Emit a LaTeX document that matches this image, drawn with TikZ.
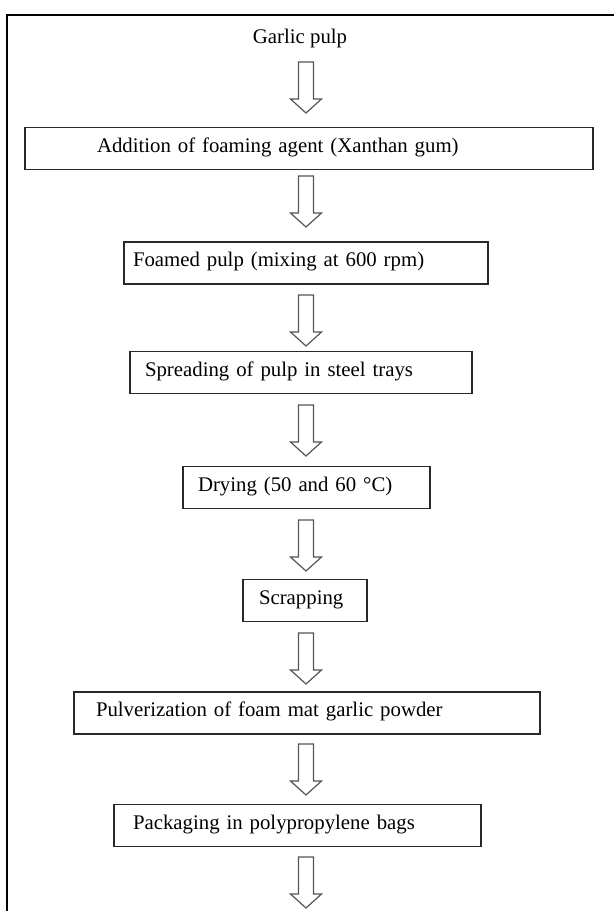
\documentclass[tikz,border=0pt]{standalone}
\usepackage{fontspec}
\setmainfont{Liberation Serif}
\usepackage{tikz}
\usetikzlibrary{positioning}
\definecolor{boxline}{RGB}{40, 40, 40}
\definecolor{arrowgray}{RGB}{85, 85, 85}

\begin{document}
\begin{tikzpicture}[
    x=1pt, y=-1pt,
    font=\fontsize{20.8pt}{25pt}\selectfont,
    stepbox/.style 2 args={draw=boxline, line width=1.3pt, text width=#1, inner xsep=#2, inner ysep=0pt,
        minimum height=42pt, text height=15pt, text depth=8pt, align=left},
    arrowline/.style={draw=arrowgray, line width=1.2pt, line join=miter},
    flowarrow/.pic={\draw[arrowline] (-7.5,0) -- (7.5,0) -- (7.5,37) -- (15.5,37) -- (0,51)
        -- (-15.5,37) -- (-7.5,37) -- cycle;}
]
    \useasboundingbox (0,0) rectangle (614,911);

    % Frame
    \draw[line width=1.4pt] (7,911) -- (7,15) -- (614,15);

    % Garlic pulp
    \node[anchor=base, inner sep=0pt] (pulp) at (300,43) {Garlic pulp};
    \pic at (306,62) {flowarrow};

    % Foaming
    \node[stepbox={424pt}{72pt}] (foaming) at (309,148.5) {Addition of foaming agent (Xanthan gum)};
    \pic at (306,176) {flowarrow};

    \node[stepbox={346pt}{9pt}] (foamed) at (306,263) {Foamed pulp (mixing at 600 rpm)};
    \pic at (306,295) {flowarrow};

    % Spreading and drying
    \node[stepbox={312pt}{15pt}] (spreading) at (301,372.5) {Spreading of pulp in steel trays};
    \pic at (306,405) {flowarrow};

    \node[stepbox={217pt}{15pt}] (drying) at (306.5,487.5) {Drying (50 and 60 °C)};
    \pic at (306,520) {flowarrow};

    \node[stepbox={92pt}{16pt}] (scrapping) at (305,600.5) {Scrapping};
    \pic at (306,633) {flowarrow};

    % Powder
    \node[stepbox={422pt}{22pt}] (pulverization) at (307,713) {Pulverization of foam mat garlic powder};
    \pic at (306,744) {flowarrow};

    \node[stepbox={329pt}{19pt}] (packaging) at (297.5,825.5) {Packaging in polypropylene bags};
    \pic at (306,857) {flowarrow};

\end{tikzpicture}
\end{document}
